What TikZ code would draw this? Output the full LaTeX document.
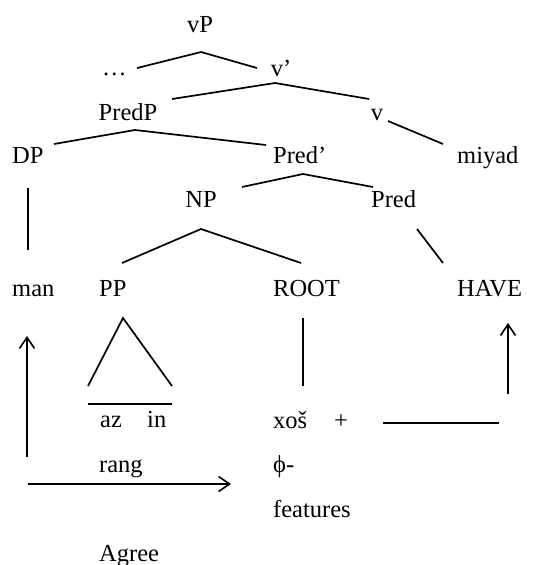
\documentclass[tikz,border=0pt]{standalone}
\usepackage{fontspec}
\setmainfont{Liberation Serif}
\usetikzlibrary{arrows.meta}
\tikzset{
  lbl/.style={inner sep=0pt, font=\fontsize{24.5}{29}\selectfont},
  lbc/.style={lbl, anchor=base},
  lbw/.style={lbl, anchor=base west},
  edge/.style={line width=1.7pt},
  arr/.style={line width=1.7pt, -{Straight Barb[length=11pt,width=15pt,line width=1.6pt]}}
}
\begin{document}
\begin{tikzpicture}[x=1pt,y=-1pt]
\useasboundingbox (0,0) rectangle (559,565);
% labels
\node[lbc] (vP) at (200,32) {vP};
\node[lbw] (dots) at (102,75) {\dots};
\node[lbc] (vbar) at (281,76) {v’};
\node[lbc] (PredP) at (128,120) {PredP};
\node[lbc] (v) at (377,120) {v};
\node[lbw] (DP) at (12,163) {DP};
\node[lbw] (Predbar) at (273,163) {Pred’};
\node[lbw] (miyad) at (457,163) {miyad};
\node[lbc] (NP) at (201,207) {NP};
\node[lbw] (Pred) at (371,207) {Pred};
\node[lbw] (man) at (12,296) {man};
\node[lbw] (PP) at (99,296) {PP};
\node[lbw] (ROOT) at (273,296) {ROOT};
\node[lbw] (HAVE) at (457,296) {HAVE};
\node[lbw] (az) at (100,427) {az};
\node[lbw] (in) at (147,427) {in};
\node[lbw] (rang) at (99,472) {rang};
\node[lbw] (xos) at (273,428) {xoš};
\node[lbc] (plus) at (341,428) {+};
\node[lbw] (phi) at (273,472) {ϕ-};
\node[lbw] (features) at (273,517) {features};
\node[lbw] (Agree) at (99,561) {Agree};
% tree coordinates
\coordinate (vPb) at (201,52);
\coordinate (vPl) at (137,68);
\coordinate (vPr) at (257,68);
\coordinate (vbb) at (275,83);
\coordinate (vbl) at (172,99);
\coordinate (vbr) at (369,99);
\coordinate (vb) at (388,121);
\coordinate (miyt) at (443,144);
\coordinate (PPb) at (135,130);
\coordinate (PPl) at (54,144);
\coordinate (PPr) at (266,145);
\coordinate (Pbb) at (303,174);
\coordinate (Pbl) at (242,187);
\coordinate (Pbr) at (373,187);
\coordinate (DPb) at (28,188);
\coordinate (mant) at (28,250);
\coordinate (NPb) at (201,229);
\coordinate (NPl) at (122,263);
\coordinate (NPr) at (301,263);
\coordinate (Predb) at (417,229);
\coordinate (HAVEt) at (443,263);
\coordinate (triA) at (123,318);
\coordinate (triL) at (88,386);
\coordinate (triR) at (172,386);
\coordinate (barL) at (88,404);
\coordinate (barR) at (172,404);
\coordinate (ROOTb) at (303,318);
\coordinate (xost) at (303,386);
\coordinate (hlL) at (383,423);
\coordinate (hlR) at (499,423);
\coordinate (upRs) at (508,394);
\coordinate (upRe) at (508,323);
\coordinate (upLs) at (27,457);
\coordinate (upLe) at (27,336);
\coordinate (agS) at (28,484);
\coordinate (agE) at (231,484);
% edges
\draw[edge] (vPl) -- (vPb) -- (vPr);
\draw[edge] (vbl) -- (vbb) -- (vbr);
\draw[edge] (vb) -- (miyt);
\draw[edge] (PPl) -- (PPb) -- (PPr);
\draw[edge] (Pbl) -- (Pbb) -- (Pbr);
\draw[edge] (DPb) -- (mant);
\draw[edge] (NPl) -- (NPb) -- (NPr);
\draw[edge] (Predb) -- (HAVEt);
\draw[edge] (triL) -- (triA) -- (triR);
\draw[edge] (barL) -- (barR);
\draw[edge] (ROOTb) -- (xost);
\draw[edge] (hlL) -- (hlR);
\draw[arr] (upRs) -- (upRe);
\draw[arr] (upLs) -- (upLe);
\draw[arr] (agS) -- (agE);
\end{tikzpicture}
\end{document}
